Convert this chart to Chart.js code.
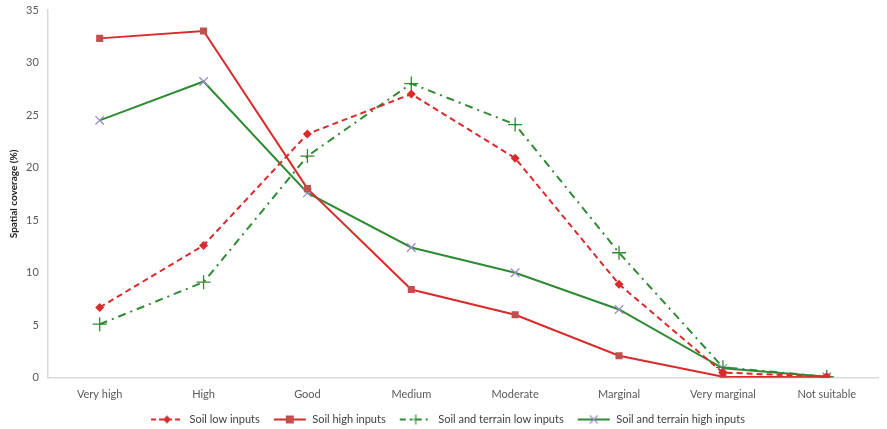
<!DOCTYPE html>
<html lang="en">
<head>
  <meta charset="UTF-8">
  <title>Spatial coverage by suitability class</title>
  <script src="https://cdn.jsdelivr.net/npm/chart.js"></script>
  <style>
    html, body { margin: 0; padding: 0; background: #fff; }
    #wrap { width: 887px; height: 429px; }
  </style>
</head>
<body>
  <div id="wrap"><canvas id="chart"></canvas></div>

  <script>
    const categories = ['Very high', 'High', 'Good', 'Medium', 'Moderate', 'Marginal', 'Very marginal', 'Not suitable'];
    const soilLow = [6.7, 12.6, 23.2, 27.0, 20.9, 8.9, 0.5, 0.1];
    const soilHigh = [32.3, 33.0, 18.0, 8.4, 6.0, 2.1, 0.1, 0.05];
    const terrainLow = [5.1, 9.1, 21.1, 28.0, 24.1, 11.9, 1.0, 0.1];
    const terrainHigh = [24.5, 28.2, 17.6, 12.4, 10.0, 6.5, 0.9, 0.1];
    const yTicks = [0, 5, 10, 15, 20, 25, 30, 35];

    const red = '#d92b2b';
    const green = '#2f8a34';

    // small legend sample: line (with dash) plus the marker
    function legendIcon(color, dash, marker, markerColor) {
      const c = document.createElement('canvas');
      c.width = 34; c.height = 12;
      const g = c.getContext('2d');
      g.strokeStyle = color;
      g.lineWidth = 2;
      g.setLineDash(dash);
      g.beginPath(); g.moveTo(1, 6); g.lineTo(33, 6); g.stroke();
      g.setLineDash([]);
      g.fillStyle = markerColor;
      g.strokeStyle = markerColor;
      g.lineWidth = 1.2;
      if (marker === 'diamond') {
        g.beginPath(); g.moveTo(17, 2); g.lineTo(21, 6); g.lineTo(17, 10); g.lineTo(13, 6); g.closePath(); g.fill();
      } else if (marker === 'square') {
        g.fillRect(13, 2, 8, 8);
      } else if (marker === 'plus') {
        g.beginPath(); g.moveTo(17, 1); g.lineTo(17, 11); g.moveTo(12, 6); g.lineTo(22, 6); g.stroke();
      } else {
        g.beginPath(); g.moveTo(13, 2); g.lineTo(21, 10); g.moveTo(21, 2); g.lineTo(13, 10); g.stroke();
      }
      return c;
    }

    const icons = [
      legendIcon(red, [5, 3], 'diamond', red),
      legendIcon(red, [], 'square', '#c0504d'),
      legendIcon(green, [6, 4, 2, 4], 'plus', green),
      legendIcon(green, [], 'x', '#9a8cc8')
    ];

    new Chart(document.getElementById('chart'), {
      type: 'line',
      data: {
        labels: categories,
        datasets: [
          {
            label: 'Soil low inputs',
            data: soilLow,
            borderColor: red,
            backgroundColor: red,
            borderWidth: 2,
            borderDash: [6, 4],
            pointStyle: 'rectRot',
            pointRadius: 4.5,
            pointBorderWidth: 0,
            pointBackgroundColor: red
          },
          {
            label: 'Soil high inputs',
            data: soilHigh,
            borderColor: red,
            backgroundColor: '#c0504d',
            borderWidth: 2,
            pointStyle: 'rect',
            pointRadius: 5,
            pointBorderWidth: 0,
            pointBackgroundColor: '#c0504d'
          },
          {
            label: 'Soil and terrain low inputs',
            data: terrainLow,
            borderColor: green,
            backgroundColor: green,
            borderWidth: 2,
            borderDash: [8, 5, 2, 5],
            pointStyle: 'cross',
            pointRadius: 7,
            pointBorderWidth: 1.3,
            pointBorderColor: green
          },
          {
            label: 'Soil and terrain high inputs',
            data: terrainHigh,
            borderColor: green,
            backgroundColor: '#9a8cc8',
            borderWidth: 2,
            pointStyle: 'crossRot',
            pointRadius: 6,
            pointBorderWidth: 1.3,
            pointBorderColor: '#9a8cc8'
          }
        ]
      },
      options: {
        responsive: true,
        maintainAspectRatio: false,
        animation: false,
        layout: { padding: { top: 10, right: 0, left: 8, bottom: -6 } },
        scales: {
          x: {
            offset: true,
            grid: { display: false, drawTicks: false },
            border: { color: '#d9d9d9', width: 1.5 },
            ticks: { color: '#595959', font: { family: 'Lato', size: 11 }, padding: 10, maxRotation: 0 },
            afterFit: function (a) { a.height -= 10; a.paddingLeft = 0; a.paddingRight = 0; }
          },
          y: {
            min: 0,
            max: 35,
            afterBuildTicks: function (axis) { axis.ticks = yTicks.map(v => ({ value: v })); },
            afterFit: function (a) { a.paddingTop = 0; a.paddingBottom = 0; },
            grid: { display: false, drawTicks: false },
            border: { color: '#d9d9d9', width: 1.5 },
            ticks: { color: '#595959', font: { family: 'Lato', size: 11 }, padding: 9 },
            title: {
              display: true,
              text: 'Spatial coverage (%)',
              color: '#262626',
              font: { family: 'Lato', size: 10, weight: 'bold' },
              padding: { top: 0, bottom: -3 }
            }
          }
        },
        plugins: {
          tooltip: { enabled: false },
          legend: {
            position: 'bottom',
            labels: {
              usePointStyle: true,
              pointStyleWidth: 34,
              boxHeight: 12,
              padding: 13,
              color: '#404040',
              font: { family: 'Lato', size: 11 },
              generateLabels: function (chart) {
                const items = Chart.defaults.plugins.legend.labels.generateLabels(chart);
                items.forEach((it, i) => { it.pointStyle = icons[i]; });
                return items;
              }
            }
          }
        }
      }
    });
  </script>
</body>
</html>
